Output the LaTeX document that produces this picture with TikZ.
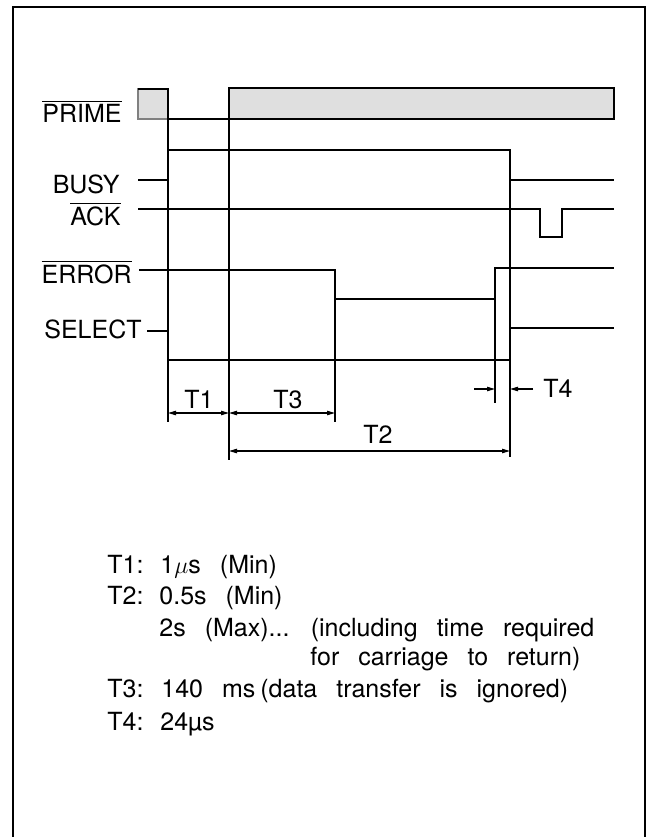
\documentclass[tikz,border=0pt]{standalone}
\usepackage{fontspec}
\setmainfont{TeX Gyre Heros}
\usetikzlibrary{arrows.meta}
\newcommand{\lowact}[1]{$\overline{\mbox{#1}}$}
\newcommand{\widewords}{\spaceskip=9.5pt\relax}

\begin{document}
\begin{tikzpicture}[x=0.5pt, y=-0.5pt, every node/.style={font=\fontsize{12.5}{15}\selectfont, inner sep=0pt}, sig/.style={line width=1.3pt}, guide/.style={line width=0.6pt}, dim/.style={guide, {Triangle[length=4pt,width=2.2pt]}-{Triangle[length=4pt,width=2.2pt]}}, tip/.style={guide, -{Triangle[length=4pt,width=2.2pt]}}, signame/.style={anchor=base east}, note/.style={anchor=base west, font=\fontsize{12.5}{15}\selectfont\widewords}]
	\useasboundingbox (0,0) rectangle (648,837);
	\draw[line width=1pt] (13,837) -- (13,7) -- (645,7) -- (645,837);
	% signal names
	\node[signame] (prime) at (122,122) {\lowact{PRIME}};
	\node[signame] (busy) at (120,193) {BUSY};
	\node[signame] (ack) at (121,225) {\lowact{ACK}};
	\node[signame] (error) at (132,283) {\lowact{ERROR}};
	\node[signame] (select) at (142,338) {SELECT};
	% waveforms
	\draw[guide, gray, fill=gray!25] (138,89) rectangle (168,119);
	\draw[guide, fill=gray!25] (229,88) rectangle (614,119);
	\draw[sig] (138,89) -| (168,119) -| (229,88) -- (614,88);
	\draw[sig] (138,180) -| (168,150) -| (510,180) -- (614,180);
	\draw[sig] (138,209) -| (540,237) -| (562,209) -- (614,209);
	\draw[sig] (139,270) -| (335,299) -| (495,268) -- (614,268);
	\draw[sig] (147,331) -| (168,360) -| (510,328) -- (614,328);
	\foreach \x/\a/\b in {168/119/422, 229/119/460, 335/299/422, 495/299/403, 510/180/457} {\draw[guide] (\x,\a) -- (\x,\b);}
	% timing intervals
	\coordinate (p1) at (168,413); \coordinate (p2) at (229,413); \coordinate (p3) at (335,413);
	\coordinate (q1) at (229,451); \coordinate (q2) at (510,451);
	\coordinate (r1) at (474,389); \coordinate (r2) at (495,389); \coordinate (r3) at (510,389); \coordinate (r4) at (533,389);
	\draw[dim] (p1) -- (p2);
	\draw[dim] (p2) -- (p3);
	\draw[dim] (q1) -- (q2);
	\draw[tip] (r1) -- (r2);
	\draw[tip] (r4) -- (r3);
	\node[anchor=base] (t1) at (199,408) {T1};
	\node[anchor=base] (t3) at (288,408) {T3};
	\node[anchor=base] (t2) at (378,443) {T2};
	\node[anchor=base west] (t4) at (543,397) {T4};
	% notes
	\foreach \k/\yy in {1/573, 2/604, 3/697, 4/730} {\node[note] (k\k) at (107,\yy) {T\k:};}
	\node[note] (v1) at (160,573) {1$\mu$s (Min)};
	\node[note] (v2) at (159,604) {0.5s (Min)};
	\node[note] (v2b) at (159,636) {2s (Max)... (including time required};
	\node[note] (v2c) at (310,665) {for carriage to return)};
	\node[note] (v3) at (161,697) {140 ms};
	\node[note] (v3b) at (260,697) {(data transfer is ignored)};
	\node[note] (v4) at (160,730) {24µs};
\end{tikzpicture}
\end{document}
